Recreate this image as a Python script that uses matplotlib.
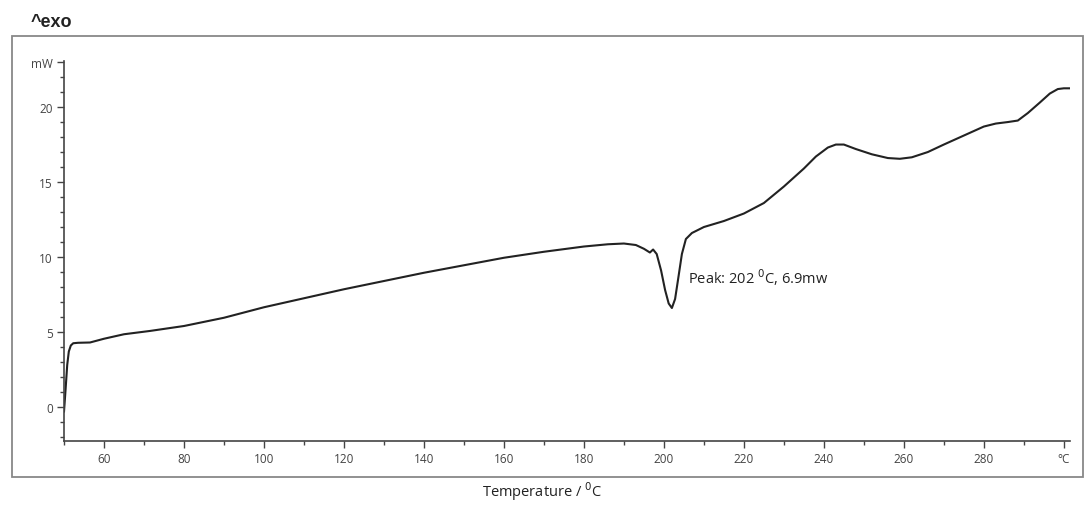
import matplotlib.pyplot as plt
from matplotlib.patches import Rectangle
from matplotlib.ticker import MultipleLocator

# DSC curve
temp = [50.0, 50.4, 50.8, 51.2, 51.7, 52.3, 53.5, 56.5, 60, 65, 71.5, 80, 90, 100, 110, 120,
        130, 140, 150, 160, 170, 180, 186, 190, 193, 195, 196.5, 197.3, 198.2, 199.3,
        200.3, 201.2, 202, 202.8, 203.6, 204.5, 205.5, 207, 210, 215, 220, 225, 230,
        235, 238, 241, 243, 245, 248, 252, 256, 259, 262, 266, 270, 275, 280, 283,
        286, 288.5, 291, 294, 296.5, 298.5, 300, 301.5]
heat = [-0.3, 1.2, 2.8, 3.7, 4.1, 4.25, 4.28, 4.3, 4.55, 4.85, 5.07, 5.4, 5.95, 6.65, 7.25,
        7.85, 8.4, 8.95, 9.45, 9.95, 10.35, 10.7, 10.85, 10.9, 10.8, 10.55, 10.3, 10.5,
        10.2, 9.1, 7.8, 6.9, 6.6, 7.2, 8.6, 10.2, 11.2, 11.6, 12.0, 12.4, 12.9, 13.6,
        14.7, 15.9, 16.7, 17.3, 17.5, 17.5, 17.2, 16.85, 16.6, 16.55, 16.65, 17.0,
        17.5, 18.1, 18.7, 18.9, 19.0, 19.1, 19.6, 20.3, 20.9, 21.2, 21.25, 21.25]

x_major = [60, 80, 100, 120, 140, 160, 180, 200, 220, 240, 260, 280, 300]
x_labels = ['60', '80', '100', '120', '140', '160', '180', '200', '220', '240', '260', '280', '°C']
y_major = [0, 5, 10, 15, 20, 23]
y_labels = ['0', '5', '10', '15', '20', 'mW']

plt.rcParams['font.family'] = ['Open Sans', 'DejaVu Sans']

fig = plt.figure(figsize=(10.85, 5.10), dpi=100)
ax = fig.add_axes([0.059, 0.1333, 0.927, 0.7451])

ax.plot(temp, heat, color='#222222', lw=1.5)

ax.set_xlim(50, 301.5)
ax.set_ylim(-2.27, 23.07)
ax.set_xticks(x_major)
ax.set_xticklabels(x_labels)
ax.xaxis.set_minor_locator(MultipleLocator(10))
ax.set_yticks(y_major)
ax.set_yticklabels(y_labels)
ax.yaxis.set_minor_locator(MultipleLocator(1))
ax.tick_params(which='major', direction='out', length=5, width=1, labelsize=8.5,
               colors='#444444', pad=3)
ax.tick_params(which='minor', direction='out', length=3, width=1, colors='#444444')
for s in ['top', 'right']:
    ax.spines[s].set_visible(False)
for s in ['left', 'bottom']:
    ax.spines[s].set_color('#444444')
    ax.spines[s].set_linewidth(1.2)

ax.text(206, 8.7, 'Peak: 202 $^{0}$C, 6.9mw', fontsize=10.5, color='#222222', va='center')

fig.patches.append(Rectangle((0.011, 0.0627), 0.987, 0.865, transform=fig.transFigure,
                             fill=False, edgecolor='#888888', lw=1.3))
fig.text(0.028, 0.955, '^exo', fontsize=13, fontweight='bold', color='#222222',
         family='Liberation Sans', va='center')
fig.text(0.5, 0.035, 'Temperature / $^{0}$C', fontsize=10.5, color='#222222', ha='center',
         va='center')

fig.savefig('out.png', dpi=100)
